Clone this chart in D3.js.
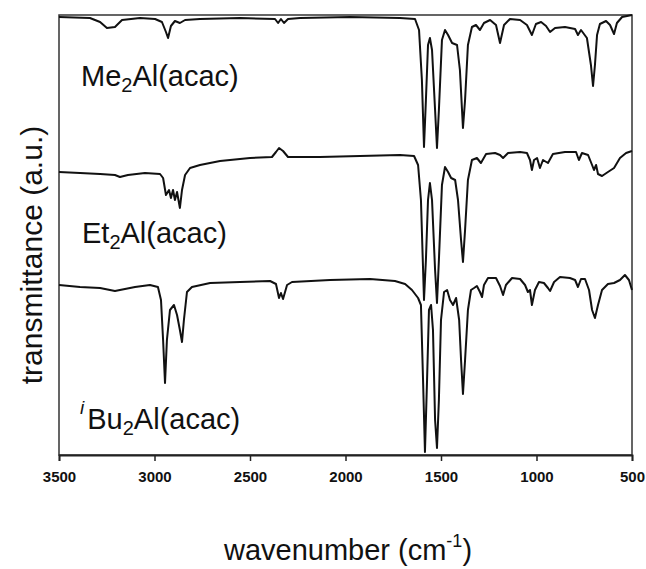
<!DOCTYPE html>
<html>

<head>
  <meta charset="utf-8">
  <title>IR spectra</title>
  <script type="text/javascript" src="https://cdn.jsdelivr.net/npm/d3@7"></script>
  <style type="text/css">
    body { margin: 0; background: #fff; }
    text { font-family: "Liberation Sans", Arial, sans-serif; fill: #111; }
  </style>
</head>

<body>
  <script type="text/javascript">

    // Wavenumber ticks
    const xTicks = [3500, 3000, 2500, 2000, 1500, 1000, 500];

    // Spectra, [wavenumber, offset transmittance (a.u.)]
    const me2al = [
      [3500, 43.8], [3338, 43.7], [3285, 43.3], [3249, 42.7], [3207, 42.8], [3170, 43.5],
      [3076, 43.7], [2997, 43.6], [2961, 43.3], [2940, 42.3], [2929, 41.7], [2914, 42.9],
      [2893, 43.4], [2867, 43.2], [2840, 43.5], [2762, 43.6], [2552, 43.7], [2369, 43.6],
      [2353, 43.2], [2338, 43.6], [2322, 43.2], [2301, 43.6], [2238, 43.7], [1976, 43.8],
      [1715, 43.7], [1636, 43.6], [1615, 42.5], [1600, 37.5], [1589, 30.8], [1579, 35.5],
      [1568, 41.0], [1558, 41.7], [1547, 40.5], [1531, 34.5], [1521, 30.7], [1511, 34.5],
      [1495, 41.5], [1479, 42.5], [1463, 42.0], [1442, 41.2], [1416, 41.0], [1401, 38.5],
      [1385, 32.7], [1374, 35.5], [1359, 41.0], [1338, 42.8], [1317, 43.0], [1296, 42.5],
      [1275, 43.2], [1243, 43.5], [1212, 43.0], [1191, 41.2], [1170, 43.0], [1139, 43.6],
      [1086, 43.5], [1050, 43.0], [1024, 42.0], [1003, 43.1], [976, 43.3], [950, 42.9],
      [929, 42.3], [903, 42.7], [851, 42.8], [798, 42.6], [783, 42.0], [767, 42.5],
      [736, 41.7], [715, 39.0], [704, 36.9], [694, 39.0], [683, 42.0], [668, 43.1],
      [636, 43.4], [615, 43.0], [594, 42.1], [579, 43.2], [552, 43.8], [500, 44.0]
    ];

    const et2al = [
      [3500, 28.3], [3390, 28.2], [3285, 28.1], [3207, 28.0], [3181, 27.8], [3139, 28.0],
      [3050, 28.2], [2971, 28.1], [2955, 27.7], [2940, 26.0], [2924, 26.5], [2914, 25.7],
      [2903, 26.5], [2893, 25.5], [2882, 26.3], [2867, 24.7], [2856, 26.5], [2840, 28.0],
      [2814, 28.7], [2762, 29.0], [2657, 29.4], [2500, 29.7], [2385, 29.8], [2364, 30.3],
      [2348, 30.7], [2327, 30.4], [2301, 29.8], [2134, 29.8], [1924, 29.9], [1715, 30.0],
      [1641, 29.9], [1620, 29.0], [1605, 25.5], [1589, 15.5], [1579, 19.5], [1568, 25.5],
      [1558, 27.2], [1547, 25.5], [1531, 18.5], [1521, 15.2], [1511, 19.5], [1495, 27.0],
      [1479, 28.8], [1463, 28.3], [1447, 27.7], [1426, 27.5], [1411, 25.5], [1395, 21.5],
      [1385, 19.3], [1374, 22.5], [1359, 27.5], [1338, 29.5], [1312, 29.7], [1291, 29.2],
      [1264, 30.1], [1217, 30.2], [1191, 30.0], [1175, 29.7], [1149, 30.2], [1086, 30.3],
      [1050, 30.2], [1034, 29.5], [1024, 28.5], [1013, 29.5], [997, 29.7], [982, 28.7],
      [966, 29.5], [940, 29.2], [914, 30.1], [851, 30.3], [793, 30.3], [778, 29.5],
      [762, 30.2], [730, 30.0], [709, 29.0], [699, 28.5], [688, 29.0], [678, 28.1],
      [657, 27.9], [626, 28.3], [594, 28.7], [563, 29.7], [531, 30.2], [500, 30.4]
    ];

    const ibu2al = [
      [3500, 17.0], [3390, 16.8], [3285, 16.7], [3207, 16.4], [3181, 16.5], [3102, 16.8],
      [3024, 17.0], [2982, 16.8], [2966, 15.5], [2955, 11.5], [2945, 7.2], [2935, 11.5],
      [2919, 14.5], [2898, 15.0], [2882, 14.0], [2867, 12.5], [2856, 11.3], [2846, 13.5],
      [2830, 16.3], [2804, 16.8], [2709, 17.2], [2552, 17.3], [2395, 17.4], [2364, 17.1],
      [2348, 15.7], [2338, 16.2], [2327, 15.6], [2306, 17.0], [2280, 17.3], [2081, 17.5],
      [1872, 17.6], [1741, 17.4], [1688, 17.1], [1652, 16.5], [1620, 15.7], [1605, 15.0],
      [1594, 7.5], [1584, 0.3], [1573, 7.5], [1563, 14.5], [1552, 15.0], [1542, 12.5],
      [1531, 3.5], [1521, 0.7], [1511, 5.5], [1500, 13.5], [1484, 16.3], [1468, 16.5],
      [1453, 15.5], [1437, 15.0], [1421, 15.7], [1405, 13.5], [1395, 9.5], [1385, 6.1],
      [1374, 9.5], [1359, 14.5], [1343, 16.5], [1327, 16.7], [1312, 16.9], [1296, 16.3],
      [1285, 15.8], [1275, 17.0], [1254, 17.7], [1212, 17.7], [1191, 16.9], [1175, 16.0],
      [1160, 17.0], [1128, 17.7], [1086, 17.6], [1060, 17.0], [1045, 16.3], [1034, 16.5],
      [1024, 15.0], [1008, 16.5], [987, 17.3], [961, 17.2], [940, 16.7], [929, 16.4],
      [908, 17.3], [877, 17.8], [825, 17.7], [798, 17.5], [783, 16.8], [767, 17.6],
      [746, 17.6], [725, 16.5], [709, 14.5], [694, 13.7], [678, 15.0], [657, 16.5],
      [626, 17.1], [594, 17.2], [563, 17.5], [537, 18.0], [516, 17.5], [500, 16.5]
    ];

    // Width and height
    const w = 646;
    const h = 569;
    const margin = { top: 15, right: 14, bottom: 114, left: 59 };

    const x = d3.scaleLinear()
      .domain([3500, 500])
      .range([margin.left, w - margin.right]);

    const y = d3.scaleLinear()
      .domain([0, 44])
      .range([h - margin.bottom, margin.top]);

    const svg = d3.select("body")
      .append("svg")
      .attr("width", w)
      .attr("height", h);

    // Frame
    svg.append("rect")
      .attr("x", margin.left)
      .attr("y", margin.top)
      .attr("width", w - margin.left - margin.right)
      .attr("height", h - margin.top - margin.bottom)
      .attr("fill", "none")
      .attr("stroke", "#333")
      .attr("stroke-width", 1.5);

    // Bottom axis
    const xAxis = d3.axisBottom(x)
      .tickValues(xTicks)
      .tickSize(6)
      .tickPadding(10)
      .tickFormat(d3.format("d"));

    const gx = svg.append("g")
      .attr("transform", "translate(0," + (h - margin.bottom) + ")")
      .call(xAxis);
    gx.select(".domain").attr("stroke", "#222").attr("stroke-width", 1.8);
    gx.selectAll(".tick line").attr("stroke", "#222").attr("stroke-width", 1.5);
    gx.selectAll(".tick text")
      .attr("font-size", 15)
      .attr("font-weight", "bold")
      .attr("font-family", "'Liberation Sans', Arial, sans-serif")
      .attr("fill", "#222");

    // Spectra
    const line = d3.line()
      .x(function (d) { return x(d[0]); })
      .y(function (d) { return y(d[1]); });

    [me2al, et2al, ibu2al].forEach(function (s) {
      svg.append("path")
        .datum(s)
        .attr("d", line)
        .attr("fill", "none")
        .attr("stroke", "#111")
        .attr("stroke-width", 2)
        .attr("stroke-linejoin", "round");
    });

    // Series labels
    function label(px, py, pre, post, sup) {
      const t = svg.append("text")
        .attr("x", px)
        .attr("y", py)
        .attr("font-size", 29);
      if (sup) {
        t.append("tspan").text(sup)
          .attr("font-size", 19)
          .attr("font-style", "italic")
          .attr("dy", -15);
        t.append("tspan").text(pre).attr("dx", 3).attr("dy", 15);
      } else {
        t.append("tspan").text(pre);
      }
      t.append("tspan").text("2").attr("font-size", 20).attr("dy", 6);
      t.append("tspan").text(post).attr("dy", -6);
    }
    label(81, 86, "Me", "Al(acac)");
    label(82, 243, "Et", "Al(acac)");
    label(80, 429, "Bu", "Al(acac)", "i");

    // Axis titles
    svg.append("text")
      .attr("transform", "translate(42,255) rotate(-90)")
      .attr("text-anchor", "middle")
      .attr("font-size", 30)
      .text("transmittance (a.u.)");

    const xt = svg.append("text")
      .attr("x", 348)
      .attr("y", 560)
      .attr("text-anchor", "middle")
      .attr("font-size", 29);
    xt.append("tspan").text("wavenumber (cm");
    xt.append("tspan").text("-1").attr("font-size", 18).attr("dy", -13);
    xt.append("tspan").text(")").attr("dy", 13);

  </script>
</body>

</html>
